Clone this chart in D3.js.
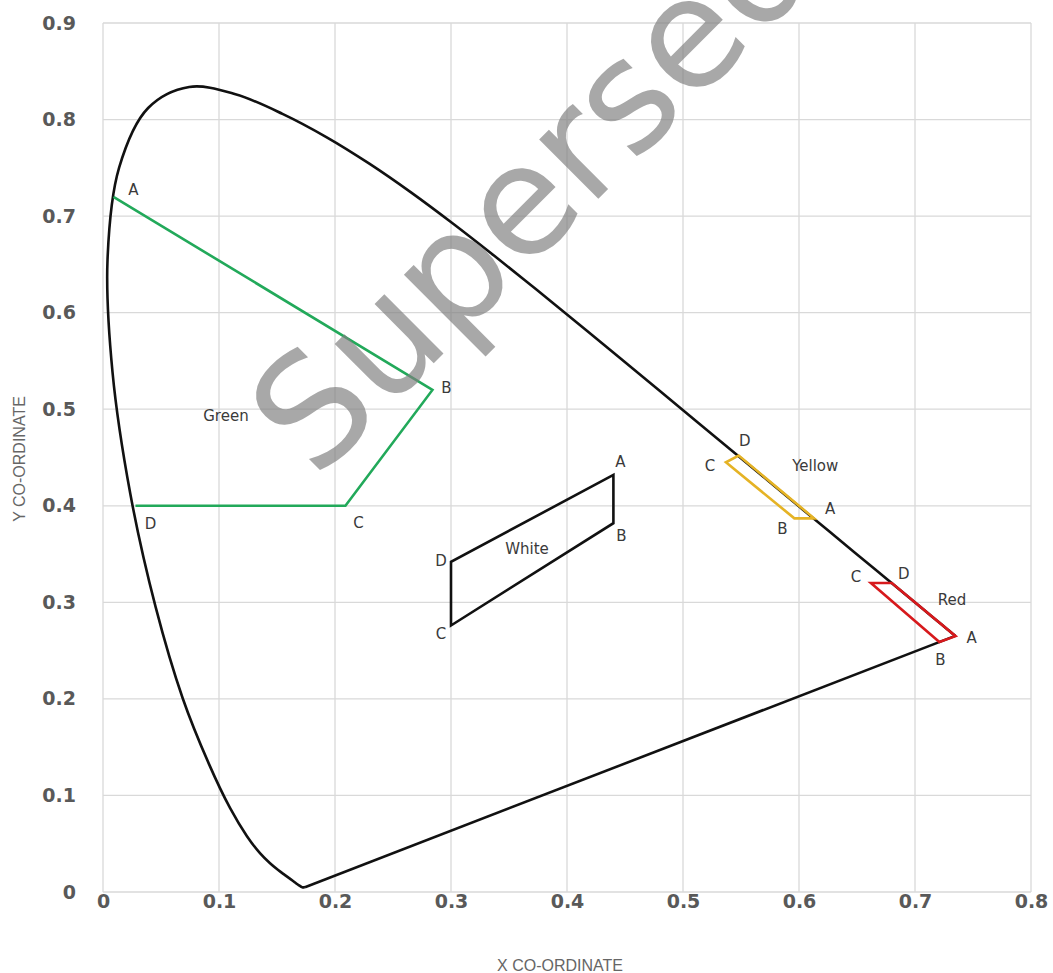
<!DOCTYPE html>
<html>
<head>
<meta charset="utf-8">
<script src="https://cdn.jsdelivr.net/npm/d3@7"></script>
<style>
  body { margin: 0; background: #fff; }
  .tick text { font-family: "DejaVu Sans", sans-serif; font-weight: 700; font-size: 19px; fill: #595959; }
  .grid line { stroke: #d9d9d9; stroke-width: 1.3px; }
  .lbl { font-family: "DejaVu Sans", sans-serif; font-size: 15px; fill: #3a3a3a; }
  .axis-title { font-family: "Liberation Sans", sans-serif; font-size: 16px; fill: #666; }
</style>
</head>
<body>
<div class="chart"></div>
<script>
// spectral locus (CIE 1931), 380..660 nm every 5 nm, then 700 nm
var locusX = [0.1741, 0.1740, 0.1738, 0.1736, 0.1733, 0.1730, 0.1726, 0.1721, 0.1714, 0.1703,
              0.1689, 0.1669, 0.1644, 0.1611, 0.1566, 0.1510, 0.1440, 0.1355, 0.1241, 0.1096,
              0.0913, 0.0687, 0.0454, 0.0235, 0.0082, 0.0039, 0.0139, 0.0389, 0.0743, 0.1142,
              0.1547, 0.1929, 0.2296, 0.2658, 0.3016, 0.3373, 0.3731, 0.4087, 0.4441, 0.4788,
              0.5125, 0.5448, 0.5752, 0.6029, 0.6270, 0.6482, 0.6658, 0.6801, 0.6915, 0.7006,
              0.7079, 0.7140, 0.7190, 0.7230, 0.7260, 0.7283, 0.7300, 0.7347];
var locusY = [0.0050, 0.0050, 0.0049, 0.0049, 0.0048, 0.0048, 0.0048, 0.0048, 0.0051, 0.0058,
              0.0069, 0.0086, 0.0109, 0.0138, 0.0177, 0.0227, 0.0297, 0.0399, 0.0578, 0.0868,
              0.1327, 0.2007, 0.2950, 0.4127, 0.5384, 0.6548, 0.7502, 0.8120, 0.8338, 0.8262,
              0.8059, 0.7816, 0.7543, 0.7243, 0.6923, 0.6589, 0.6245, 0.5896, 0.5547, 0.5202,
              0.4866, 0.4544, 0.4242, 0.3965, 0.3725, 0.3514, 0.3340, 0.3197, 0.3083, 0.2993,
              0.2920, 0.2859, 0.2809, 0.2770, 0.2740, 0.2717, 0.2700, 0.2653];

// colour boundaries, corners A, B, C, D
var CORNERS = ["A", "B", "C", "D"];
var greenX  = [0.009, 0.284, 0.209, 0.028];
var greenY  = [0.720, 0.520, 0.400, 0.400];
var whiteX  = [0.440, 0.440, 0.300, 0.300];
var whiteY  = [0.432, 0.382, 0.276, 0.342];
var yellowX = [0.613, 0.596, 0.537, 0.548];
var yellowY = [0.387, 0.387, 0.445, 0.452];
var redX    = [0.735, 0.721, 0.662, 0.680];
var redY    = [0.265, 0.259, 0.320, 0.320];

var xTicks = [0, 0.1, 0.2, 0.3, 0.4, 0.5, 0.6, 0.7, 0.8];
var yTicks = [0, 0.1, 0.2, 0.3, 0.4, 0.5, 0.6, 0.7, 0.8, 0.9];

var W = 1053, H = 973;
var margin = {top: 23, right: 22, bottom: 81, left: 103},
    width = W - margin.left - margin.right,
    height = H - margin.top - margin.bottom;

var svg = d3.select(".chart").append("svg")
    .attr("width", W)
    .attr("height", H)
  .append("g")
    .attr("transform", "translate(" + margin.left + "," + margin.top + ")");

var x = d3.scaleLinear().domain([0, 0.8]).range([0, width]);
var y = d3.scaleLinear().domain([0, 0.9]).range([height, 0]);

var fmt = function (d) { return d === 0 ? "0" : d3.format(".1f")(d); };

// grid
svg.append("g").attr("class", "grid")
  .selectAll("line").data(xTicks).enter().append("line")
    .attr("x1", function (d) { return x(d); }).attr("x2", function (d) { return x(d); })
    .attr("y1", 0).attr("y2", height);
svg.append("g").attr("class", "grid")
  .selectAll("line").data(yTicks).enter().append("line")
    .attr("y1", function (d) { return y(d); }).attr("y2", function (d) { return y(d); })
    .attr("x1", 0).attr("x2", width);

// axes (labels only)
var xAxis = svg.append("g")
    .attr("transform", "translate(0," + height + ")")
    .call(d3.axisBottom(x).tickValues(xTicks).tickFormat(fmt).tickSize(0).tickPadding(2));
xAxis.select(".domain").remove();

var yAxis = svg.append("g")
    .call(d3.axisLeft(y).tickValues(yTicks).tickFormat(fmt).tickSize(0).tickPadding(27));
yAxis.select(".domain").remove();

svg.append("text").attr("class", "axis-title")
    .attr("x", 560 - margin.left).attr("y", height + 79)
    .attr("text-anchor", "middle")
    .text("X CO-ORDINATE");

svg.append("text").attr("class", "axis-title")
    .attr("transform", "translate(" + (25 - margin.left) + "," + (459 - margin.top) + ") rotate(-90)")
    .attr("text-anchor", "middle")
    .text("Y CO-ORDINATE");

// spectral locus (smooth) and the straight purple line closing it
var locus = locusX.map(function (d, i) { return [d, locusY[i]]; });
var line = d3.line()
    .x(function (d) { return x(d[0]); })
    .y(function (d) { return y(d[1]); });
var smooth = d3.line()
    .x(function (d) { return x(d[0]); })
    .y(function (d) { return y(d[1]); })
    .curve(d3.curveCatmullRom.alpha(0.5));

svg.append("path")
    .datum(locus)
    .attr("d", smooth)
    .attr("fill", "none")
    .attr("stroke", "#111")
    .attr("stroke-width", 2.6);

svg.append("path")
    .datum([locus[locus.length - 1], locus[0]])
    .attr("d", line)
    .attr("fill", "none")
    .attr("stroke", "#111")
    .attr("stroke-width", 2.6);

// regions; off = label nudges in px for corners A..D
var regions = [
  {name: "Green",  xs: greenX,  ys: greenY,  color: "#22a95a", closed: false,
   nameAt: [0.106, 0.488], off: [[20, -2], [14, 3], [13, 22], [15, 23]]},
  {name: "White",  xs: whiteX,  ys: whiteY,  color: "#111", closed: true,
   nameAt: [0.3655, 0.350], off: [[7, -8], [8, 18], [-10, 13], [-10, 4]]},
  {name: "Yellow", xs: yellowX, ys: yellowY, color: "#e5b325", closed: true,
   nameAt: [0.614, 0.436], off: [[16, -4], [-12, 16], [-16, 9], [6, -10]]},
  {name: "Red",    xs: redX,    ys: redY,    color: "#d7191c", closed: true,
   nameAt: [0.732, 0.297], off: [[16, 7], [1, 23], [-15, -1], [12, -4]]}
];

regions.forEach(function (r) {
  var pts = r.xs.map(function (d, i) { return [d, r.ys[i]]; });
  svg.append("path")
      .datum(pts)
      .attr("d", function (d) { return line(d) + (r.closed ? "Z" : ""); })
      .attr("fill", "none")
      .attr("stroke", r.color)
      .attr("stroke-width", 2.6)
      .attr("stroke-linejoin", "miter");

  svg.selectAll(null).data(pts).enter().append("text")
      .attr("class", "lbl")
      .attr("x", function (d, i) { return x(d[0]) + r.off[i][0]; })
      .attr("y", function (d, i) { return y(d[1]) + r.off[i][1]; })
      .attr("text-anchor", "middle")
      .text(function (d, i) { return CORNERS[i]; });

  svg.append("text")
      .attr("class", "lbl")
      .attr("x", x(r.nameAt[0]))
      .attr("y", y(r.nameAt[1]))
      .attr("text-anchor", "middle")
      .text(r.name);
});

// watermark
d3.select(".chart svg").append("text")
    .attr("transform", "translate(316,481) rotate(-45)")
    .attr("font-family", "DejaVu Sans, sans-serif")
    .attr("font-size", 153)
    .attr("fill", "#7f7f7f")
    .attr("fill-opacity", 0.68)
    .text("Superseded");
</script>
</body>
</html>
